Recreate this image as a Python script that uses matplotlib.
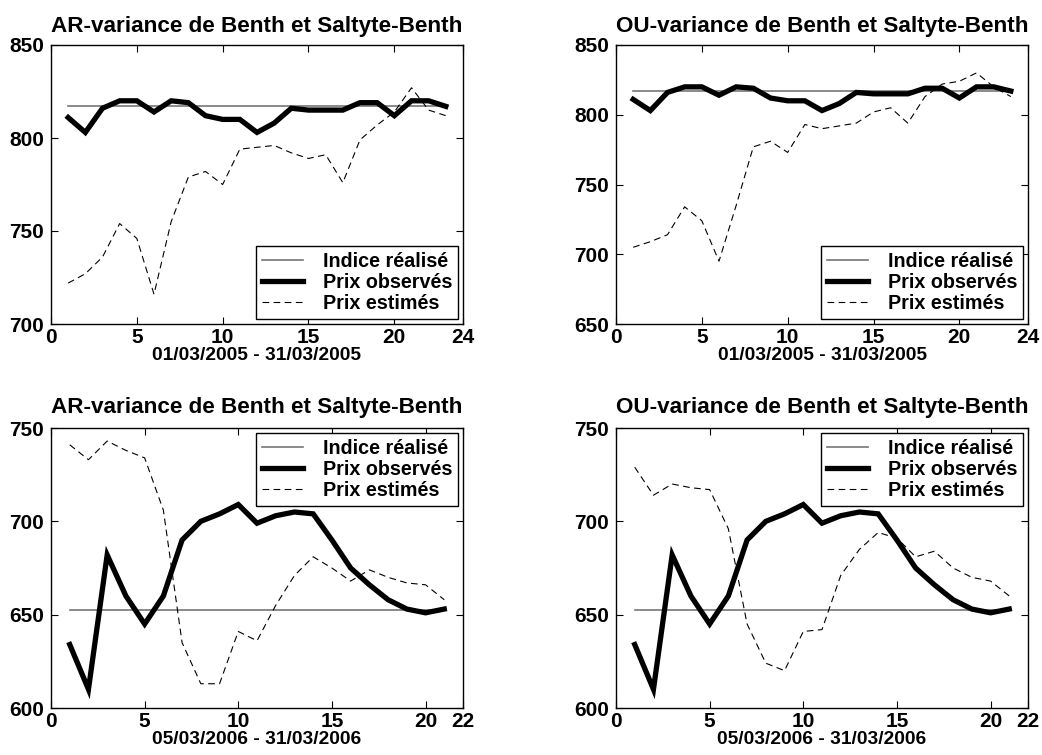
import numpy as np
import matplotlib.pyplot as plt

plt.rcParams['font.family'] = ['Liberation Sans', 'DejaVu Sans']
plt.rcParams['font.weight'] = 'bold'

### DATA
### ------------------
days_2005 = np.arange(1, 24)
obs_2005 = [811, 803, 816, 820, 820, 814, 820, 819, 812, 810, 810, 803,
            808, 816, 815, 815, 815, 819, 819, 812, 820, 820, 817]
est_ar_2005 = [722, 727, 736, 754, 746, 716, 755, 779, 782, 775, 794, 795,
               796, 792, 789, 791, 776, 799, 807, 814, 827, 815, 812]
est_ou_2005 = [705, 709, 714, 734, 724, 695, 735, 777, 781, 773, 793, 790,
               792, 794, 802, 805, 794, 813, 822, 824, 830, 820, 813]
index_2005 = 817.3

days_2006 = np.arange(1, 22)
obs_2006 = [634, 610, 682, 660, 645, 660, 690, 700, 704, 709, 699, 703,
            705, 704, 690, 675, 666, 658, 653, 651, 653]
est_ar_2006 = [741, 733, 743, 738, 734, 706, 635, 613, 613, 641, 636, 655,
               671, 681, 675, 668, 674, 670, 667, 666, 658]
est_ou_2006 = [729, 714, 720, 718, 717, 696, 645, 624, 620, 641, 642, 671,
               685, 694, 691, 681, 684, 675, 670, 668, 660]
index_2006 = 652.3

titles = ['AR-variance de Benth et Saltyte-Benth', 'OU-variance de Benth et Saltyte-Benth']
labels = ['Indice réalisé', 'Prix observés', 'Prix estimés']

### AUX METHODS
### ------------------

def plotPanel(ax, days, obs, est, index, meta):
    ax.plot([days[0], days[-1]], [index, index], color='#777777', lw=1.2, label=labels[0])
    ax.plot(days, obs, color='black', lw=3.8, solid_joinstyle='miter', label=labels[1])
    ax.plot(days, est, color='black', lw=0.8, dashes=(6, 4), label=labels[2])

    ax.set_xlim(0, meta['xmax'])
    ax.set_xticks(meta['xticks'])
    ax.set_ylim(meta['ylim'])
    ax.set_yticks(np.arange(meta['ylim'][0], meta['ylim'][1] + 1, 50))
    ax.tick_params(direction='in', top=True, right=True, length=5, width=0.8,
                   labelsize=15)
    ax.tick_params(axis='x', pad=3)
    ax.tick_params(axis='y', pad=5)
    for lab in ax.get_xticklabels() + ax.get_yticklabels():
        lab.set_fontweight('bold')
    for s in ax.spines.values():
        s.set_linewidth(1.0)
    ax.set_title(meta['title'], fontsize=16.2, fontweight='bold', pad=meta['tpad'])
    ax.set_xlabel(meta['xlabel'], fontsize=13.8, fontweight='bold', labelpad=0)

    leg = ax.legend(loc=meta['legloc'], handlelength=2.1,
                    borderaxespad=0.25, fancybox=False, framealpha=1,
                    edgecolor='black', borderpad=0.3, labelspacing=0.1,
                    handletextpad=1.0, prop={'weight': 'bold', 'size': 14.2})
    leg.get_frame().set_linewidth(1.0)

### MAIN
### ------------------

fig = plt.figure(figsize=(10.42, 7.55), dpi=100)
W, H = 1042.0, 755.0
lefts = [51, 616]
tops = [(45, 324), (428, 708)]

panels = [
    (days_2005, obs_2005, est_ar_2005, index_2005,
     {'title': titles[0], 'xlabel': '01/03/2005 - 31/03/2005', 'xmax': 24, 'tpad': 9,
      'xticks': [0, 5, 10, 15, 20, 24], 'ylim': (700, 850), 'legloc': 'lower right'}),
    (days_2005, obs_2005, est_ou_2005, index_2005,
     {'title': titles[1], 'xlabel': '01/03/2005 - 31/03/2005', 'xmax': 24, 'tpad': 9,
      'xticks': [0, 5, 10, 15, 20, 24], 'ylim': (650, 850), 'legloc': 'lower right'}),
    (days_2006, obs_2006, est_ar_2006, index_2006,
     {'title': titles[0], 'xlabel': '05/03/2006 - 31/03/2006', 'xmax': 22, 'tpad': 11,
      'xticks': [0, 5, 10, 15, 20, 22], 'ylim': (600, 750), 'legloc': 'upper right'}),
    (days_2006, obs_2006, est_ou_2006, index_2006,
     {'title': titles[1], 'xlabel': '05/03/2006 - 31/03/2006', 'xmax': 22, 'tpad': 11,
      'xticks': [0, 5, 10, 15, 20, 22], 'ylim': (600, 750), 'legloc': 'upper right'}),
]

for i, (days, obs, est, index, meta) in enumerate(panels):
    row, col = divmod(i, 2)
    top, bottom = tops[row]
    ax = fig.add_axes([lefts[col] / W, 1 - bottom / H, 412 / W, (bottom - top) / H])
    plotPanel(ax, days, obs, est, index, meta)

fig.savefig('out.png', dpi=100)
